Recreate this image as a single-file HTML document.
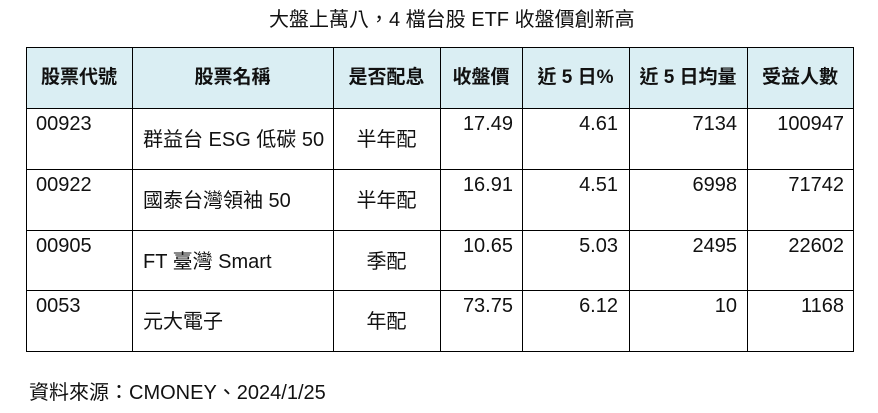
<!DOCTYPE html>
<html>
<head>
<meta charset="utf-8">
<style>
  html,body{margin:0;padding:0;background:#fff;}
  body{width:878px;height:413px;position:relative;overflow:hidden;
       font-family:"Liberation Sans","Noto Sans CJK TC","Noto Sans CJK SC",sans-serif;color:#111;}
  .t{position:absolute;white-space:nowrap;font-size:20px;line-height:24px;}
  .h{position:absolute;white-space:nowrap;font-size:19px;line-height:24px;font-weight:bold;text-align:center;}
  .hl{position:absolute;left:26px;width:828px;height:1px;background:#000;}
  .vl{position:absolute;top:47px;height:305px;width:1px;background:#000;}
  .r{text-align:right;}
  .c{text-align:center;}
</style>
</head>
<body>
  <div class="t" style="left:269px;top:8px;">大盤上萬八，4 檔台股 ETF 收盤價創新高</div>

  <div style="position:absolute;left:26px;top:47px;width:828px;height:61px;background:#DAEEF3;"></div>

  <div class="hl" style="top:47px;"></div>
  <div class="hl" style="top:108px;"></div>
  <div class="hl" style="top:169px;"></div>
  <div class="hl" style="top:230px;"></div>
  <div class="hl" style="top:290px;"></div>
  <div class="hl" style="top:351px;"></div>

  <div class="vl" style="left:26px;"></div>
  <div class="vl" style="left:132px;"></div>
  <div class="vl" style="left:333px;"></div>
  <div class="vl" style="left:440px;"></div>
  <div class="vl" style="left:522px;"></div>
  <div class="vl" style="left:629px;"></div>
  <div class="vl" style="left:747px;"></div>
  <div class="vl" style="left:853px;"></div>

  <!-- header -->
  <div class="h" style="left:26px;width:106px;top:66px;">股票代號</div>
  <div class="h" style="left:132px;width:201px;top:66px;">股票名稱</div>
  <div class="h" style="left:333px;width:107px;top:66px;">是否配息</div>
  <div class="h" style="left:440px;width:82px;top:66px;">收盤價</div>
  <div class="h" style="left:522px;width:107px;top:66px;">近 5 日%</div>
  <div class="h" style="left:629px;width:118px;top:66px;">近 5 日均量</div>
  <div class="h" style="left:747px;width:106px;top:66px;">受益人數</div>

  <!-- row 1 -->
  <div class="t" style="left:36px;top:112px;">00923</div>
  <div class="t" style="left:143px;top:128px;">群益台 ESG 低碳 50</div>
  <div class="t c" style="left:333px;width:107px;top:128px;">半年配</div>
  <div class="t r" style="left:440px;width:73px;top:112px;">17.49</div>
  <div class="t r" style="left:522px;width:96px;top:112px;">4.61</div>
  <div class="t r" style="left:629px;width:108px;top:112px;">7134</div>
  <div class="t r" style="left:747px;width:97px;top:112px;">100947</div>

  <!-- row 2 -->
  <div class="t" style="left:36px;top:173px;">00922</div>
  <div class="t" style="left:143px;top:189px;">國泰台灣領袖 50</div>
  <div class="t c" style="left:333px;width:107px;top:189px;">半年配</div>
  <div class="t r" style="left:440px;width:73px;top:173px;">16.91</div>
  <div class="t r" style="left:522px;width:96px;top:173px;">4.51</div>
  <div class="t r" style="left:629px;width:108px;top:173px;">6998</div>
  <div class="t r" style="left:747px;width:97px;top:173px;">71742</div>

  <!-- row 3 -->
  <div class="t" style="left:36px;top:234px;">00905</div>
  <div class="t" style="left:143px;top:250px;">FT 臺灣 Smart</div>
  <div class="t c" style="left:333px;width:107px;top:250px;">季配</div>
  <div class="t r" style="left:440px;width:73px;top:234px;">10.65</div>
  <div class="t r" style="left:522px;width:96px;top:234px;">5.03</div>
  <div class="t r" style="left:629px;width:108px;top:234px;">2495</div>
  <div class="t r" style="left:747px;width:97px;top:234px;">22602</div>

  <!-- row 4 -->
  <div class="t" style="left:36px;top:294px;">0053</div>
  <div class="t" style="left:143px;top:310px;">元大電子</div>
  <div class="t c" style="left:333px;width:107px;top:310px;">年配</div>
  <div class="t r" style="left:440px;width:73px;top:294px;">73.75</div>
  <div class="t r" style="left:522px;width:96px;top:294px;">6.12</div>
  <div class="t r" style="left:629px;width:108px;top:294px;">10</div>
  <div class="t r" style="left:747px;width:97px;top:294px;">1168</div>

  <div class="t" style="left:29px;top:381px;">資料來源：CMONEY、2024/1/25</div>
</body>
</html>
